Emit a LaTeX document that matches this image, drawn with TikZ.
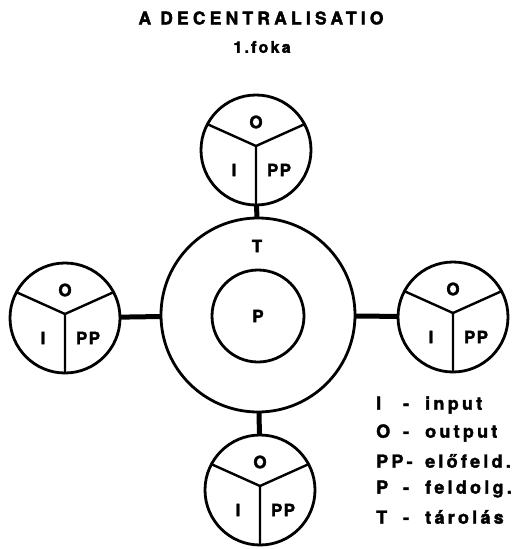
\documentclass[tikz,border=0pt]{standalone}
\usepackage{fontspec}
\setmainfont{TeX Gyre Heros}[BoldFeatures={FakeBold=2}]
\usetikzlibrary{positioning}

\begin{document}
\begin{tikzpicture}[x=1pt, y=-1pt, font=\bfseries\fontsize{17}{19}\selectfont,
unit/.style={draw, circle, line width=2.8pt, minimum size=110pt, inner sep=0pt, outer sep=0pt},
ring/.style={draw, circle, line width=2.8pt, minimum size=194pt, inner sep=0pt, outer sep=0pt},
core/.style={draw, circle, line width=2.8pt, minimum size=92pt, inner sep=0pt, outer sep=0pt},
spoke/.style={line width=2.4pt},
link/.style={line width=5pt},
lbl/.style={inner sep=0pt, font=\bfseries\fontsize{17}{19}\selectfont\addfontfeature{LetterSpace=8}},
legend/.style={anchor=west, inner sep=0pt, font=\bfseries\fontsize{18}{20}\selectfont\addfontfeature{LetterSpace=18}}]
\useasboundingbox (0,0) rectangle (524,549);

% titles
\node[inner sep=0pt, font=\bfseries\fontsize{17.5}{20}\selectfont\addfontfeature{LetterSpace=24}] (title) at (261,18) {A DECENTRALISATIO};
\node[inner sep=0pt, font=\bfseries\fontsize{16}{18}\selectfont\addfontfeature{LetterSpace=14}] (degree) at (262,47) {1.foka};

% centre: storage ring and processing core
\node[ring] (store) at (258,315) {};
\node[core] (proc) at (258,316) {};
\node[lbl] (lT) at (257,246) {T};
\node[lbl] (lP) at (258,316) {P};

% the four units
\node[unit] (top) at (256,150) {};
\node[unit] (left) at (65,318) {};
\node[unit] (right) at (453,317) {};
\node[unit] (bottom) at (260,490) {};

\coordinate (topj) at ([yshift=4pt]top.center);
\coordinate (leftj) at ([yshift=4pt]left.center);
\coordinate (rightj) at ([yshift=4pt]right.center);
\coordinate (bottomj) at ([yshift=4pt]bottom.center);

\draw[spoke] (top.152) -- (topj) -- (top.28) (topj) -- (top.270);
\draw[spoke] (left.152) -- (leftj) -- (left.28) (leftj) -- (left.270);
\draw[spoke] (right.152) -- (rightj) -- (right.28) (rightj) -- (right.270);
\draw[spoke] (bottom.152) -- (bottomj) -- (bottom.28) (bottomj) -- (bottom.270);

\node[lbl] (topO) at ([yshift=28pt]top.center) {O};
\node[lbl] (topI) at ([xshift=-22pt,yshift=-20pt]top.center) {I};
\node[lbl] (topPP) at ([xshift=23pt,yshift=-20pt]top.center) {PP};
\node[lbl] (leftO) at ([yshift=28pt]left.center) {O};
\node[lbl] (leftI) at ([xshift=-22pt,yshift=-20pt]left.center) {I};
\node[lbl] (leftPP) at ([xshift=23pt,yshift=-20pt]left.center) {PP};
\node[lbl] (rightO) at ([yshift=28pt]right.center) {O};
\node[lbl] (rightI) at ([xshift=-22pt,yshift=-20pt]right.center) {I};
\node[lbl] (rightPP) at ([xshift=23pt,yshift=-20pt]right.center) {PP};
\node[lbl] (bottomO) at ([yshift=28pt]bottom.center) {O};
\node[lbl] (bottomI) at ([xshift=-22pt,yshift=-20pt]bottom.center) {I};
\node[lbl] (bottomPP) at ([xshift=23pt,yshift=-20pt]bottom.center) {PP};

% links to the storage ring
\draw[link] (top) -- (store);
\draw[link] (left) -- (store);
\draw[link] (right) -- (store);
\draw[link] (bottom) -- (store);

% key
\node[legend] (kI) at (376,405) {\makebox[27pt][l]{I}\makebox[22pt][l]{-}input};
\node[legend] (kO) at (376,433) {\makebox[27pt][l]{O}\makebox[22pt][l]{-}output};
\node[legend] (kPP) at (376,461) {\makebox[49pt][l]{PP-}előfeld.};
\node[legend] (kP) at (376,489) {\makebox[27pt][l]{P}\makebox[22pt][l]{-}feldolg.};
\node[legend] (kT) at (376,517) {\makebox[27pt][l]{T}\makebox[22pt][l]{-}tárolás};
\end{tikzpicture}
\end{document}
